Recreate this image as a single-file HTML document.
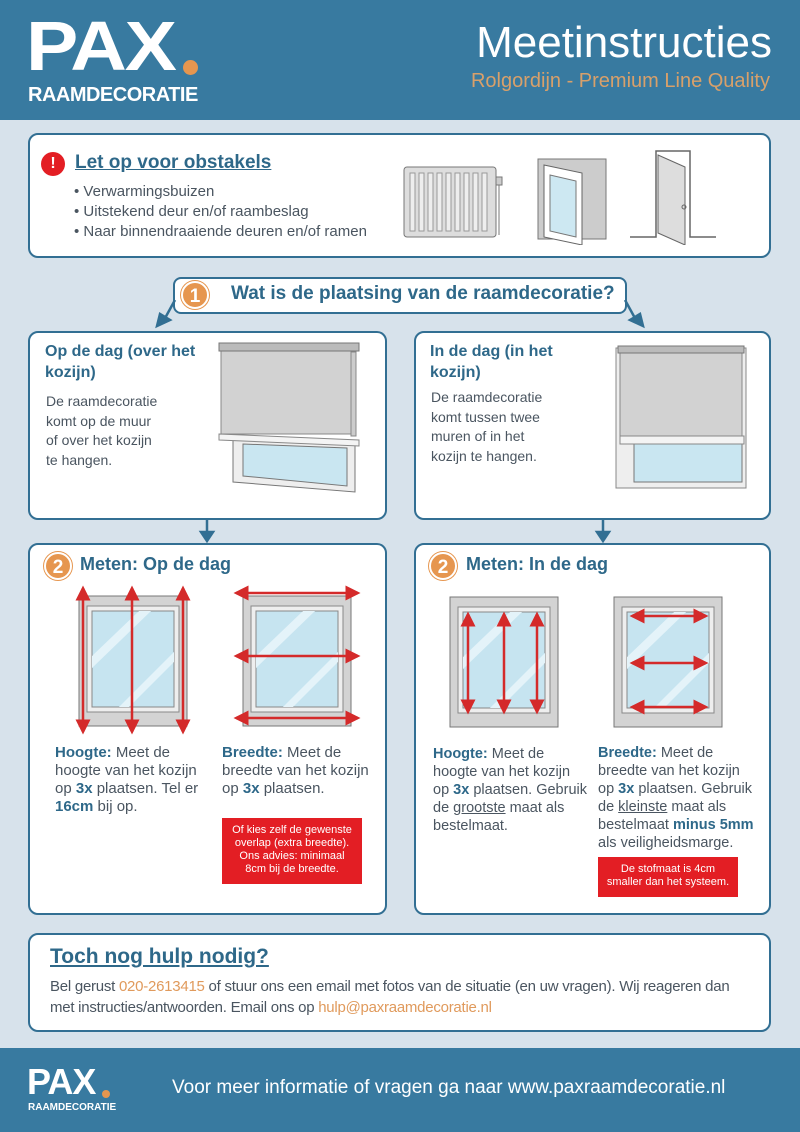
<!DOCTYPE html>
<html><head><meta charset="utf-8"><style>
*{margin:0;padding:0;box-sizing:border-box}
body{width:800px;height:1132px;background:#d7e2eb;position:relative;overflow:hidden;font-family:"Liberation Sans",sans-serif;color:#4a5a66}
.a{position:absolute;white-space:nowrap}
.card{position:absolute;background:#fff;border:2.5px solid #326f93;border-radius:10px}
.t{color:#2e6889;font-weight:bold}
.num{position:absolute;width:28px;height:28px;border-radius:50%;background:#e6964f;color:#fff;font-weight:bold;font-size:19px;text-align:center;line-height:28px;border:2px solid #fff;box-shadow:0 0 0 1px #e6964f}
.body{font-size:15px;line-height:18px;color:#4a5560}
.red{position:absolute;background:#e31e24;color:#fff;font-size:11px;line-height:13px;text-align:center;padding-top:6px}
b{color:#2e6889}
</style></head><body>
<div class="a" style="left:0;top:0;width:800px;height:120px;background:#387aa0"></div>
<div class="a" style="left:26px;top:8px;font-size:70px;font-weight:bold;color:#fff;letter-spacing:-2px;line-height:76px;transform:scaleX(1.12);transform-origin:left">PAX</div>
<div class="a" style="left:183px;top:60px;width:15px;height:15px;border-radius:50%;background:#e6964f"></div>
<div class="a" style="left:28px;top:84px;font-size:20px;font-weight:bold;color:#fff;letter-spacing:-0.5px">RAAMDECORATIE</div>
<div class="a" style="right:28px;top:18px;font-size:44px;color:#fff;line-height:50px">Meetinstructies</div>
<div class="a" style="right:30px;top:70px;font-size:20px;color:#d8a06a">Rolgordijn - Premium Line Quality</div>

<div class="card" style="left:28px;top:133px;width:743px;height:125px"></div>
<div class="a" style="left:41px;top:152px;width:24px;height:24px;border-radius:50%;background:#e31e24;color:#fff;font-weight:bold;text-align:center;line-height:24px;font-size:16px">!</div>
<div class="a t" style="left:75px;top:152px;font-size:19px;text-decoration:underline">Let op voor obstakels</div>
<div class="a body" style="left:74px;top:182px;line-height:20px">• Verwarmingsbuizen<br>• Uitstekend deur en/of raambeslag<br>• Naar binnendraaiende deuren en/of ramen</div>
<svg class="a" style="left:400px;top:145px" width="330" height="100">
<rect x="4" y="22" width="92" height="70" rx="3" fill="#ddd" stroke="#777"/>
<g stroke="#999" fill="#eee"><rect x="10" y="28" width="5" height="58"/><rect x="19" y="28" width="5" height="58"/><rect x="28" y="28" width="5" height="58"/><rect x="37" y="28" width="5" height="58"/><rect x="46" y="28" width="5" height="58"/><rect x="55" y="28" width="5" height="58"/><rect x="64" y="28" width="5" height="58"/><rect x="73" y="28" width="5" height="58"/><rect x="82" y="28" width="5" height="58"/></g>
<rect x="96" y="32" width="6" height="8" fill="#ccc" stroke="#777"/><line x1="99" y1="40" x2="99" y2="90" stroke="#777"/>
<rect x="138" y="14" width="68" height="80" fill="#ccc" stroke="#777"/>
<polygon points="144,20 182,28 182,100 144,92" fill="#fff" stroke="#666"/>
<polygon points="150,30 176,36 176,92 150,86" fill="#cde8f2" stroke="#777"/>
<polyline points="230,92 256,92 256,6 290,6 290,92 316,92" fill="none" stroke="#666" stroke-width="1.5"/>
<polygon points="258,10 285,22 285,100 258,88" fill="#ddd" stroke="#666"/>
<circle cx="284" cy="62" r="2" fill="none" stroke="#666"/>
</svg>

<div class="card" style="left:173px;top:277px;width:454px;height:37px;border-radius:8px"></div>
<div class="num" style="left:181px;top:281px">1</div>
<div class="a t" style="left:231px;top:283px;font-size:19px">Wat is de plaatsing van de raamdecoratie?</div>
<svg class="a" style="left:0;top:0;pointer-events:none" width="800" height="1132">
<g stroke="#326f93" stroke-width="2.5" fill="#326f93">
<line x1="175" y1="300" x2="164" y2="320"/><polygon points="157,326 160,314 170,320"/>
<line x1="625" y1="300" x2="636" y2="320"/><polygon points="643,326 630,320 640,314"/>
<line x1="207" y1="519" x2="207" y2="533"/><polygon points="201,532 213,532 207,541"/>
<line x1="603" y1="519" x2="603" y2="533"/><polygon points="597,532 609,532 603,541"/>
</g></svg>

<div class="card" style="left:28px;top:331px;width:359px;height:189px"></div>
<div class="a t" style="left:45px;top:341px;font-size:16px;line-height:21px">Op de dag (over het<br>kozijn)</div>
<div class="a body" style="left:46px;top:392px;font-size:14px;line-height:19.5px">De raamdecoratie<br>komt op de muur<br>of over het kozijn<br>te hangen.</div>
<div class="card" style="left:414px;top:331px;width:357px;height:189px"></div>
<div class="a t" style="left:430px;top:341px;font-size:16px;line-height:21px">In de dag (in het<br>kozijn)</div>
<div class="a body" style="left:431px;top:388px;font-size:14px;line-height:19.5px">De raamdecoratie<br>komt tussen twee<br>muren of in het<br>kozijn te hangen.</div>
<svg class="a" style="left:215px;top:340px" width="150" height="155">
<polygon points="18,100 140,104 140,152 18,142" fill="#eee" stroke="#777"/>
<polygon points="28,104 132,108 132,146 28,136" fill="#c9e6f1" stroke="#777"/>
<rect x="6" y="6" width="134" height="88" fill="#d2d2d2" stroke="#888"/>
<rect x="4" y="3" width="140" height="8" fill="#bbb" stroke="#777"/>
<rect x="136" y="12" width="5" height="84" fill="#ccc" stroke="#888"/>
<polygon points="4,94 144,100 144,106 4,100" fill="#f4f4f4" stroke="#888"/>
</svg>
<svg class="a" style="left:612px;top:340px" width="140" height="155">
<rect x="4" y="8" width="130" height="140" fill="#eee" stroke="#888"/>
<rect x="22" y="100" width="108" height="42" fill="#c9e6f1" stroke="#777"/>
<rect x="8" y="10" width="122" height="90" fill="#d2d2d2" stroke="#888"/>
<rect x="6" y="6" width="126" height="7" fill="#bbb" stroke="#777"/>
<rect x="8" y="96" width="124" height="8" fill="#f4f4f4" stroke="#888"/>
</svg>

<div class="card" style="left:28px;top:543px;width:359px;height:372px"></div>
<div class="num" style="left:44px;top:552px">2</div>
<div class="a t" style="left:80px;top:554px;font-size:18px">Meten: Op de dag</div>
<div class="card" style="left:414px;top:543px;width:357px;height:372px"></div>
<div class="num" style="left:429px;top:552px">2</div>
<div class="a t" style="left:466px;top:554px;font-size:18px">Meten: In de dag</div>

<svg class="a" style="left:0;top:0" width="800" height="1132">
<defs>
<g id="w"><rect x="0" y="0" width="108" height="130" fill="#d3d3d3" stroke="#777"/>
<rect x="8" y="10" width="92" height="106" fill="#eee" stroke="#888"/>
<rect x="13" y="15" width="82" height="96" fill="#c6e4f0" stroke="#888"/>
<polygon points="13,60 60,15 72,15 13,72" fill="#e4f3f9"/><polygon points="40,111 95,56 95,66 50,111" fill="#e4f3f9"/></g>
<marker id="ar" markerWidth="6" markerHeight="6" refX="5" refY="3" orient="auto-start-reverse"><polygon points="0,0 6,3 0,6" fill="#d42a2a"/></marker>
</defs>
<use href="#w" x="79" y="596"/><use href="#w" x="243" y="596"/><use href="#w" x="450" y="597"/><use href="#w" x="614" y="597"/>
<g stroke="#d42a2a" stroke-width="2.5" marker-start="url(#ar)" marker-end="url(#ar)">
<line x1="83" y1="588" x2="83" y2="732"/><line x1="132" y1="588" x2="132" y2="732"/><line x1="183" y1="588" x2="183" y2="732"/>
<line x1="236" y1="593" x2="358" y2="593"/><line x1="236" y1="656" x2="358" y2="656"/><line x1="236" y1="718" x2="358" y2="718"/>
<line x1="468" y1="614" x2="468" y2="712"/><line x1="504" y1="614" x2="504" y2="712"/><line x1="537" y1="614" x2="537" y2="712"/>
<line x1="632" y1="616" x2="706" y2="616"/><line x1="632" y1="663" x2="706" y2="663"/><line x1="632" y1="707" x2="706" y2="707"/>
</g></svg>

<div class="a body" style="left:55px;top:744px">
<b>Hoogte:</b> Meet de<br>hoogte van het kozijn<br>op <b>3x</b> plaatsen. Tel er<br><b>16cm</b> bij op.</div>
<div class="a body" style="left:222px;top:744px"><b>Breedte:</b> Meet de<br>breedte van het kozijn<br>op <b>3x</b> plaatsen.</div>
<div class="red" style="left:222px;top:818px;width:140px;height:66px">Of kies zelf de gewenste<br>overlap (extra breedte).<br>Ons advies: minimaal<br>8cm bij de breedte.</div>
<div class="a body" style="left:433px;top:745px;font-size:14.5px"><b>Hoogte:</b> Meet de<br>hoogte van het kozijn<br>op <b>3x</b> plaatsen. Gebruik<br>de <u>grootste</u> maat als<br>bestelmaat.</div>
<div class="a body" style="left:598px;top:744px;font-size:14.5px"><b>Breedte:</b> Meet de<br>breedte van het kozijn<br>op <b>3x</b> plaatsen. Gebruik<br>de <u>kleinste</u> maat als<br>bestelmaat <b>minus 5mm</b><br>als veiligheidsmarge.</div>
<div class="red" style="left:598px;top:857px;width:140px;height:40px">De stofmaat is 4cm<br>smaller dan het systeem.</div>

<div class="card" style="left:28px;top:933px;width:743px;height:99px"></div>
<div class="a t" style="left:50px;top:945px;font-size:21px;text-decoration:underline">Toch nog hulp nodig?</div>
<div class="a body" style="left:50px;top:976px;font-size:15px;line-height:21px;letter-spacing:-0.25px">Bel gerust <span style="color:#e09a5c">020-2613415</span> of stuur ons een email met fotos van de situatie (en uw vragen). Wij reageren dan<br>met instructies/antwoorden. Email ons op <span style="color:#e09a5c">hulp@paxraamdecoratie.nl</span></div>

<div class="a" style="left:0;top:1048px;width:800px;height:84px;background:#387aa0"></div>
<div class="a" style="left:27px;top:1062px;font-size:36px;font-weight:bold;color:#fff;letter-spacing:-1px;line-height:40px">PAX</div>
<div class="a" style="left:102px;top:1090px;width:8px;height:8px;border-radius:50%;background:#e6964f"></div>
<div class="a" style="left:28px;top:1102px;font-size:10px;font-weight:bold;color:#fff">RAAMDECORATIE</div>
<div class="a" style="left:172px;top:1077px;font-size:19px;color:#fff">Voor meer informatie of vragen ga naar www.paxraamdecoratie.nl</div>
</body></html>
